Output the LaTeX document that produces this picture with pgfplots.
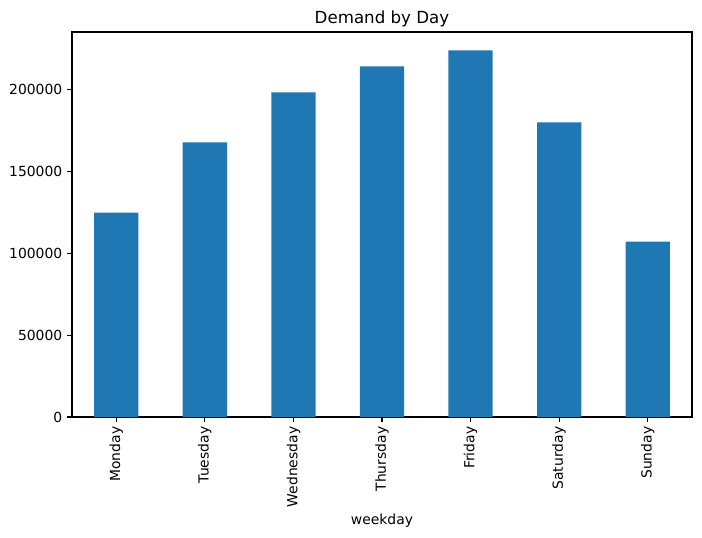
\documentclass[border=0pt]{standalone}
\usepackage{fontspec}
\setmainfont{DejaVu Sans}
\usepackage{pgfplots}
\pgfplotsset{compat=1.18}
\definecolor{mplblue}{HTML}{1F77B4}
\begin{document}
\begin{tikzpicture}
\path[use as bounding box] (0,0) rectangle (505.44pt,386.64pt);
\begin{axis}[
  at={(51.84pt,86.4pt)}, anchor=south west,
  width=446.4pt, height=277.2pt, scale only axis,
  xmin=-0.5, xmax=6.5, ymin=0, ymax=235254,
  xtick={0,1,2,3,4,5,6},
  xticklabels={Monday,Tuesday,Wednesday,Thursday,Friday,Saturday,Sunday},
  ytick={0,50000,100000,150000,200000},
  scaled y ticks=false,
  yticklabel style={/pgf/number format/fixed, /pgf/number format/precision=0, /pgf/number format/1000 sep={}, /pgf/number format/assume math mode=true},
  tick align=outside, major tick length=3.5pt,
  tick style={black, line width=0.8pt},
  axis line style={line width=0.8pt},
  xtick pos=bottom, ytick pos=left,
  ticklabel style={font=\fontsize{10}{12}\selectfont},
  xticklabel style={rotate=90, anchor=east},
  title={Demand by Day},
  title style={font=\fontsize{12}{14}\selectfont, at={(0.5,1)}, anchor=south, yshift=-6pt},
  xlabel={weekday},
  xlabel style={font=\fontsize{10}{12}\selectfont, yshift=2pt},
]
\addplot[ybar, bar width=0.5, fill=mplblue, draw=none] coordinates {
(0,124900) (1,167750) (2,198350) (3,214250) (4,224050) (5,179990) (6,107160)
};
\end{axis}
\end{tikzpicture}
\end{document}
